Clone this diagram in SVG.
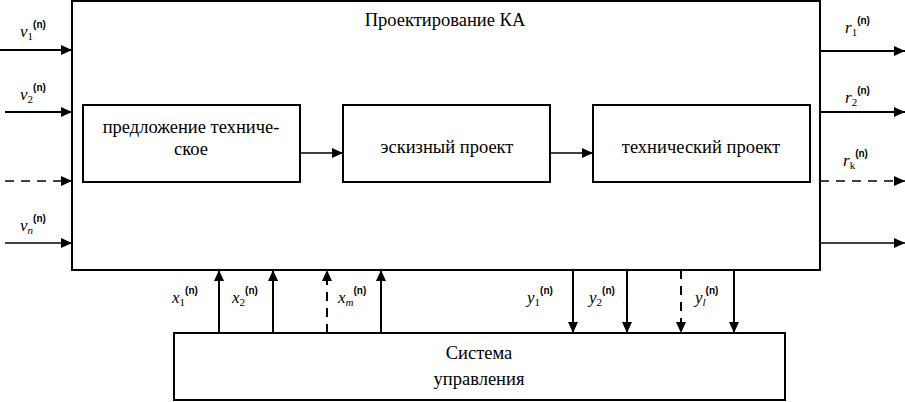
<svg xmlns="http://www.w3.org/2000/svg" width="905" height="402" viewBox="0 0 905 402">
<style>
.box{fill:#fff;stroke:#000;stroke-width:2}
.ln{stroke:#000;stroke-width:2;fill:none}
.thin{stroke:#000;stroke-width:1.3;fill:none}
.dash{stroke-dasharray:9,7}
.t{font-family:'Liberation Serif','Times New Roman',serif;font-size:18.5px;fill:#000}
.v{font-family:'Liberation Serif','Times New Roman',serif;font-style:italic;font-size:17px;fill:#000}
.s{font-family:'Liberation Serif','Times New Roman',serif;font-size:11px;fill:#000}
.p{font-family:'Liberation Sans',Arial,sans-serif;font-weight:bold;font-size:10px;fill:#000}
</style>
<defs>
<marker id="ah" markerUnits="userSpaceOnUse" markerWidth="12" markerHeight="10" refX="11" refY="5" orient="auto">
<path d="M0,0 L11,5 L0,10 Z" fill="#000"/>
</marker>
</defs>
<g id="main">
<rect class="box" x="72" y="1" width="748" height="269"/>
<text class="t" x="445" y="26" text-anchor="middle">Проектирование КА</text>
</g>
<g id="n1">
<rect class="box" x="83" y="105" width="217" height="77"/>
<text class="t" x="191" y="133" text-anchor="middle">предложение техниче-</text>
<text class="t" x="191" y="155" text-anchor="middle">ское</text>
</g>
<g id="n2">
<rect class="box" x="343" y="105" width="207" height="77"/>
<text class="t" x="447" y="153" text-anchor="middle">эскизный проект</text>
</g>
<g id="n3">
<rect class="box" x="593" y="105" width="217" height="77"/>
<text class="t" x="701" y="153" text-anchor="middle">технический проект</text>
</g>
<g id="ctrl">
<rect class="box" x="174" y="333" width="611" height="67"/>
<text class="t" x="479" y="359" text-anchor="middle">Система</text>
<text class="t" x="479" y="385" text-anchor="middle">управления</text>
</g>
<g id="connectors">
<line class="ln" x1="0" y1="50" x2="72" y2="50" marker-end="url(#ah)"/>
<line class="ln" x1="5" y1="112" x2="72" y2="112" marker-end="url(#ah)"/>
<line class="thin dash" x1="5" y1="181" x2="72" y2="181" marker-end="url(#ah)"/>
<line class="thin" x1="5" y1="243" x2="72" y2="243" marker-end="url(#ah)"/>
<line class="ln" x1="820" y1="51" x2="905" y2="51" marker-end="url(#ah)"/>
<line class="ln" x1="820" y1="112" x2="905" y2="112" marker-end="url(#ah)"/>
<line class="thin dash" x1="820" y1="181" x2="905" y2="181" marker-end="url(#ah)"/>
<line class="thin" x1="820" y1="243" x2="905" y2="243" marker-end="url(#ah)"/>
<line class="thin" x1="300" y1="153" x2="343" y2="153" marker-end="url(#ah)"/>
<line class="thin" x1="550" y1="153" x2="593" y2="153" marker-end="url(#ah)"/>
<line class="ln" x1="219" y1="333" x2="219" y2="270" marker-end="url(#ah)"/>
<line class="ln" x1="273" y1="333" x2="273" y2="270" marker-end="url(#ah)"/>
<line class="ln dash" x1="327" y1="333" x2="327" y2="270" marker-end="url(#ah)"/>
<line class="ln" x1="381" y1="333" x2="381" y2="270" marker-end="url(#ah)"/>
<line class="ln" x1="573" y1="270" x2="573" y2="333" marker-end="url(#ah)"/>
<line class="ln" x1="627" y1="270" x2="627" y2="333" marker-end="url(#ah)"/>
<line class="ln dash" x1="681" y1="270" x2="681" y2="333" marker-end="url(#ah)"/>
<line class="ln" x1="734" y1="270" x2="734" y2="333" marker-end="url(#ah)"/>
</g>
<g id="labels">
<text x="20" y="37"><tspan class="v">v</tspan><tspan class="s" dy="3">1</tspan><tspan class="p" dy="-12">(n)</tspan></text>
<text x="20" y="100"><tspan class="v">v</tspan><tspan class="s" dy="3">2</tspan><tspan class="p" dy="-12">(n)</tspan></text>
<text x="20" y="231"><tspan class="v">v</tspan><tspan class="s" dy="3" font-style="italic">n</tspan><tspan class="p" dy="-12">(n)</tspan></text>
<text x="845" y="33"><tspan class="v">r</tspan><tspan class="s" dy="3">1</tspan><tspan class="p" dy="-12">(n)</tspan></text>
<text x="845" y="103"><tspan class="v">r</tspan><tspan class="s" dy="3">2</tspan><tspan class="p" dy="-12">(n)</tspan></text>
<text x="843" y="166"><tspan class="v">r</tspan><tspan class="s" dy="3">k</tspan><tspan class="p" dy="-12">(n)</tspan></text>
<text x="172" y="303"><tspan class="v">x</tspan><tspan class="s" dy="3">1</tspan><tspan class="p" dy="-12">(n)</tspan></text>
<text x="232" y="303"><tspan class="v">x</tspan><tspan class="s" dy="3">2</tspan><tspan class="p" dy="-12">(n)</tspan></text>
<text x="338" y="303"><tspan class="v">x</tspan><tspan class="s" dy="3" font-style="italic">m</tspan><tspan class="p" dy="-12">(n)</tspan></text>
<text x="527" y="303"><tspan class="v">y</tspan><tspan class="s" dy="3">1</tspan><tspan class="p" dy="-12">(n)</tspan></text>
<text x="589" y="303"><tspan class="v">y</tspan><tspan class="s" dy="3">2</tspan><tspan class="p" dy="-12">(n)</tspan></text>
<text x="695" y="303"><tspan class="v">y</tspan><tspan class="s" dy="3" font-style="italic">l</tspan><tspan class="p" dy="-12">(n)</tspan></text>
</g>
</svg>
